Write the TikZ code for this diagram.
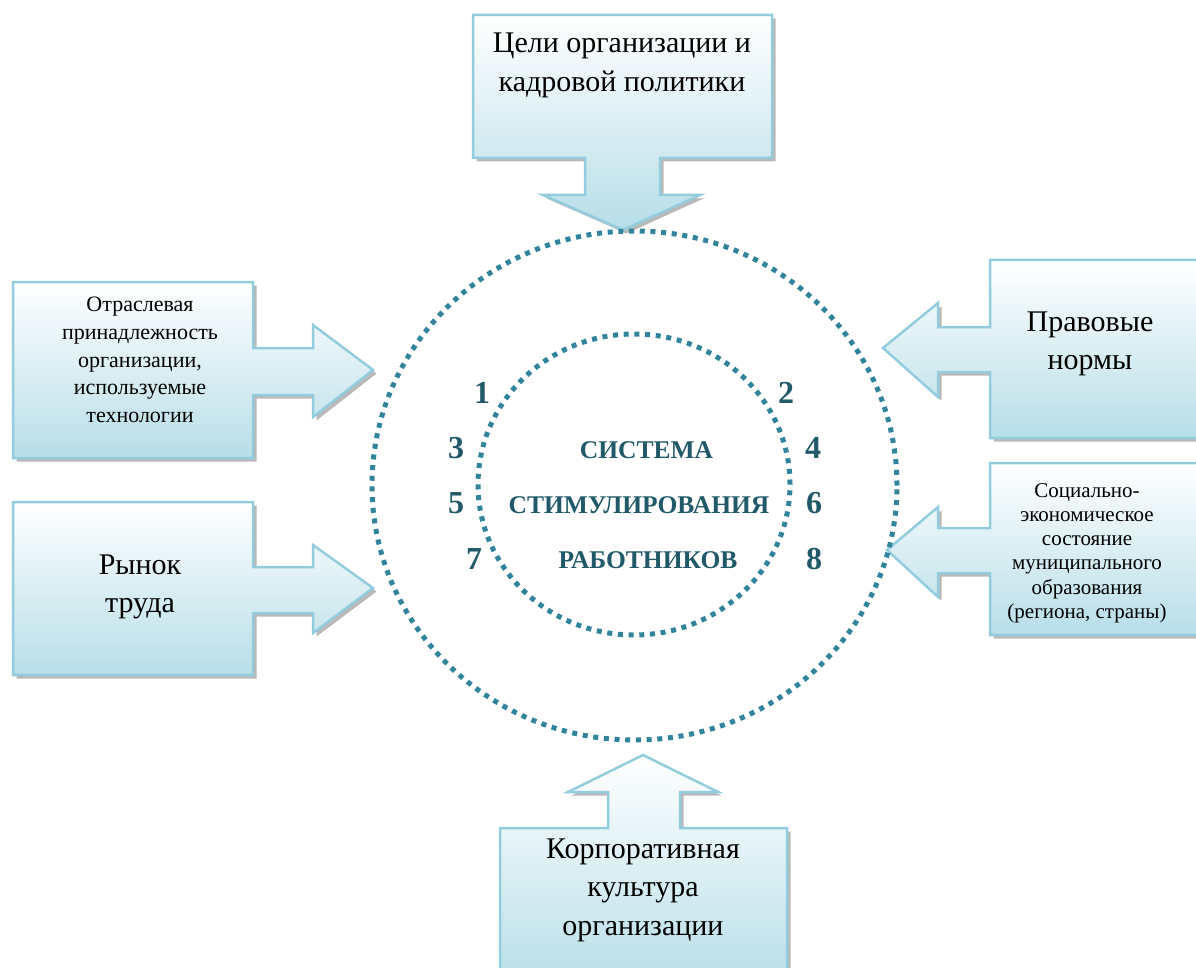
\documentclass[tikz,border=0pt]{standalone}
\usepackage{fontspec}
\setmainfont{Liberation Serif}
\definecolor{calloutborder}{HTML}{93CDDD}
\definecolor{calloutfill}{HTML}{B7DEE8}
\definecolor{dotteal}{HTML}{31849B}
\definecolor{darkteal}{HTML}{215968}
\begin{document}
\begin{tikzpicture}[x=1pt,y=-1pt,
  callout/.style={draw=calloutborder, line width=2.5pt, line join=miter, top color=white, bottom color=calloutfill},
  shadowshape/.style={fill=gray!55, draw=none, shift={(3.5,3.5)}},
  ring/.style={draw=dotteal, line width=5pt, dash pattern=on 5pt off 5.7pt},
  bigtext/.style={font=\fontsize{30}{38.5}\selectfont, align=center, inner sep=0pt, text=black},
  midtext/.style={font=\fontsize{22}{27.8}\selectfont, align=center, inner sep=0pt, text=black},
  smalltext/.style={font=\fontsize{21}{24.2}\selectfont, align=center, inner sep=0pt, text=black},
  centertext/.style={font=\fontsize{25.5}{30}\selectfont\bfseries, text=darkteal, inner sep=0pt, anchor=base},
  numtext/.style={font=\fontsize{32}{36}\selectfont\bfseries, text=darkteal, inner sep=0pt, anchor=base}
]
\useasboundingbox (0,0) rectangle (1196,968);
\clip (0,0) rectangle (1196,968);

% top callout (down arrow)
\fill[shadowshape] (473,15) -- (772,15) -- (772,158) -- (660,158) -- (660,195) -- (700,195) -- (623,230) -- (543,195) -- (585,195) -- (585,158) -- (473,158) -- cycle;
\path[callout] (473,15) -- (772,15) -- (772,158) -- (660,158) -- (660,195) -- (700,195) -- (623,230) -- (543,195) -- (585,195) -- (585,158) -- (473,158) -- cycle;

% left callout 1
\fill[shadowshape] (13,282) -- (253,282) -- (253,348) -- (313,348) -- (313,325) -- (373,370) -- (313,417) -- (313,395) -- (253,395) -- (253,458) -- (13,458) -- cycle;
\path[callout] (13,282) -- (253,282) -- (253,348) -- (313,348) -- (313,325) -- (373,370) -- (313,417) -- (313,395) -- (253,395) -- (253,458) -- (13,458) -- cycle;

% left callout 2
\fill[shadowshape] (13,502) -- (253,502) -- (253,567) -- (313,567) -- (313,545) -- (373,588) -- (313,633) -- (313,613) -- (253,613) -- (253,675) -- (13,675) -- cycle;
\path[callout] (13,502) -- (253,502) -- (253,567) -- (313,567) -- (313,545) -- (373,588) -- (313,633) -- (313,613) -- (253,613) -- (253,675) -- (13,675) -- cycle;

% right callout 1
\fill[shadowshape] (1210,260) -- (990,260) -- (990,327) -- (938,327) -- (938,303) -- (883,348) -- (938,397) -- (938,372) -- (990,372) -- (990,438) -- (1210,438) -- cycle;
\path[callout] (1210,260) -- (990,260) -- (990,327) -- (938,327) -- (938,303) -- (883,348) -- (938,397) -- (938,372) -- (990,372) -- (990,438) -- (1210,438) -- cycle;

% right callout 2
\fill[shadowshape] (1210,463) -- (990,463) -- (990,528) -- (938,528) -- (938,507) -- (887,550) -- (938,597) -- (938,573) -- (990,573) -- (990,635) -- (1210,635) -- cycle;
\path[callout] (1210,463) -- (990,463) -- (990,528) -- (938,528) -- (938,507) -- (887,550) -- (938,597) -- (938,573) -- (990,573) -- (990,635) -- (1210,635) -- cycle;

% bottom callout (up arrow)
\fill[shadowshape] (500,985) -- (500,828) -- (608,828) -- (608,792) -- (568,792) -- (643,755) -- (718,792) -- (680,792) -- (680,828) -- (787,828) -- (787,985) -- cycle;
\path[callout] (500,985) -- (500,828) -- (608,828) -- (608,792) -- (568,792) -- (643,755) -- (718,792) -- (680,792) -- (680,828) -- (787,828) -- (787,985) -- cycle;

% rings
\draw[ring] (634.5,485.5) ellipse [x radius=262.5pt, y radius=254.5pt];
\draw[ring] (634,484.5) ellipse [x radius=156pt, y radius=150.5pt];

% callout texts
\node[bigtext] (goals) at (622,65.5) {Цели организации и\\кадровой политики};
\node[midtext] (industry) at (140,360) {Отраслевая\\принадлежность\\организации,\\используемые\\технологии};
\node[bigtext] (market) at (140,587) {Рынок\\труда};
\node[bigtext] (law) at (1090,344) {Правовые\\нормы};
\node[smalltext] (socio) at (1087,553) {Социально-\\экономическое\\состояние\\муниципального\\образования\\(региона, страны)};
\node[bigtext] (culture) at (643,890) {Корпоративная\\культура\\организации};

% center texts
\node[centertext] (sys1) at (646.5,458) {СИСТЕМА};
\node[centertext] (sys2) at (639,513) {СТИМУЛИРОВАНИЯ};
\node[centertext] (sys3) at (648,568) {РАБОТНИКОВ};

% numbers
\node[numtext] (n1) at (482,403) {1};
\node[numtext] (n2) at (786,403) {2};
\node[numtext] (n3) at (456,458) {3};
\node[numtext] (n4) at (813,458) {4};
\node[numtext] (n5) at (456,513) {5};
\node[numtext] (n6) at (814,513) {6};
\node[numtext] (n7) at (474,569) {7};
\node[numtext] (n8) at (814,569) {8};
\end{tikzpicture}
\end{document}
